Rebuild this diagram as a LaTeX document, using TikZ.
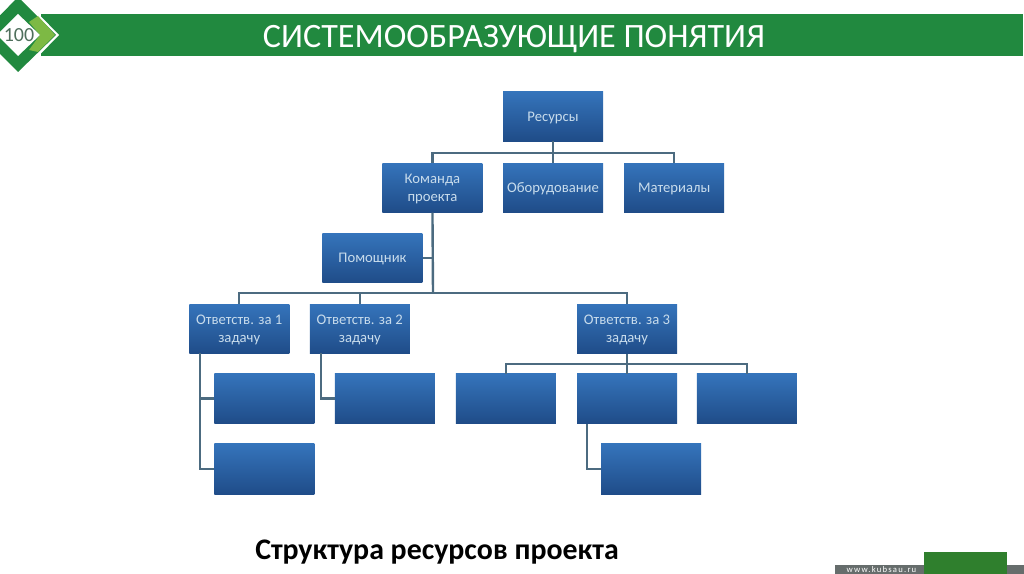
\documentclass[tikz,border=0pt]{standalone}
\usepackage{fontspec}
\setmainfont{Carlito}
\usetikzlibrary{positioning}
\definecolor{barGreen}{HTML}{21893F}
\definecolor{lightGreen}{HTML}{7DB944}
\definecolor{siteGreen}{HTML}{2F7F2D}
\definecolor{siteGray}{HTML}{666D6C}
\definecolor{linkBlue}{HTML}{4C6B80}
\definecolor{boxTop}{HTML}{3574BB}
\definecolor{boxBottom}{HTML}{1F4C88}
\definecolor{boxText}{HTML}{C8DCEC}
\definecolor{logoGray}{HTML}{4F6F5C}

\begin{document}
\begin{tikzpicture}[
    x=0.75pt, y=-0.75pt,
    box/.style={
      rectangle, align=center, text=boxText,
      minimum width=75pt, minimum height=37pt,
      inner sep=1pt, text depth=0pt, font=\fontsize{11}{13.5}\selectfont,
      top color=boxTop, bottom color=boxBottom, draw=none
    },
    link/.style={draw=linkBlue, line width=1.8pt},
    band/.style={fill=barGreen, draw=none}
  ]
    \clip (0,0) rectangle (1024,574);

    \node[band, draw=white, line width=1pt, minimum width=738pt, minimum height=32pt,
      inner sep=0pt] (bar) at (532,35) {};
    \fill[white] (18,-7) -- (59,35) -- (18,77) -- (-23,35) -- cycle;
    \fill[barGreen] (18,-3) -- (56,35) -- (18,72) -- (-19,35) -- cycle;
    \fill[lightGreen] (38,16) -- (55,35) -- (38,52) -- (29,50) -- (40,35) -- (29,22) -- cycle;
    \fill[white] (18,14) -- (40,35) -- (18,56) -- (-3,35) -- cycle;
    \node[text=logoGray, font=\fontsize{15}{15}\selectfont, inner sep=0pt] (logo) at (19,35) {100};

    \node[text=white, font=\fontsize{25.6}{26}\selectfont, inner sep=0pt] (title) at (514,39)
      {СИСТЕМООБРАЗУЮЩИЕ ПОНЯТИЯ};
    \node[font=\bfseries\fontsize{22.4}{23}\selectfont, inner sep=0pt] (caption) at (437,552)
      {Структура ресурсов проекта};

    \node[box] (res) at (553,116.5) {Ресурсы};
    \node[box, below=16pt of res] (obo) {Оборудование};
    \node[box, left=15pt of obo] (kom) {Команда\\проекта};
    \node[box, right=15.5pt of obo] (mat) {Материалы};
    \node[box, below=15.5pt of kom, xshift=-45pt] (pom) {Помощник};
    \node[box, below=15.5pt of pom, xshift=-9.5pt] (otv2) {Ответств. за 2\\задачу};
    \node[box, left=15pt of otv2] (otv1) {Ответств. за 1\\задачу};
    \node[box, right=125pt of otv2] (otv3) {Ответств. за 3\\задачу};
    \node[box, below=15pt of otv1, xshift=18.75pt] (lista) {};
    \node[box, below=15pt of otv2, xshift=18.75pt] (listb) {};
    \node[box, below=15pt of otv3] (listd) {};
    \node[box, left=15.5pt of listd] (listc) {};
    \node[box, right=14.5pt of listd] (liste) {};
    \node[box, below=15pt of lista, minimum height=38pt] (listf) {};
    \node[box, below=15pt of listd, xshift=18pt, minimum height=38pt] (listg) {};

    \coordinate (bus1) at (553,153);
    \coordinate (bus2) at (433,293);
    \coordinate (bus3) at (627,364);
    \coordinate (hang1) at (200,353);
    \coordinate (hang2) at (321,353);
    \coordinate (hang3) at (587,424);

    \draw[link] (res) -- (obo);
    \draw[link] (kom.north) |- (bus1) -| (mat.north);
    \draw[link] (kom.south) -- (bus2);
    \draw[link] (pom.east) -- (pom.east -| bus2);
    \draw[link] (otv1.north) |- (bus2) -| (otv3.north);
    \draw[link] (otv2.north) -- (otv2.north |- bus2);
    \draw[link] (hang1) |- (lista.west);
    \draw[link] (hang1) |- (listf.west);
    \draw[link] (hang2) |- (listb.west);
    \draw[link] (otv3) -- (listd);
    \draw[link] (listc.north) |- (bus3) -| (liste.north);
    \draw[link] (hang3) |- (listg.west);

    \fill[siteGray] (835,565) rectangle (1024,574);
    \node[fill=siteGreen, minimum width=62pt, minimum height=16.5pt, inner sep=0pt] (sitebox) at (965.5,563) {};
    \node[text=white, inner sep=0pt, font=\fontsize{6.5}{6.5}\selectfont\addfontfeatures{LetterSpace=14}] (site) at (881.5,570) {www.kubsau.ru};
  \end{tikzpicture}
\end{document}
